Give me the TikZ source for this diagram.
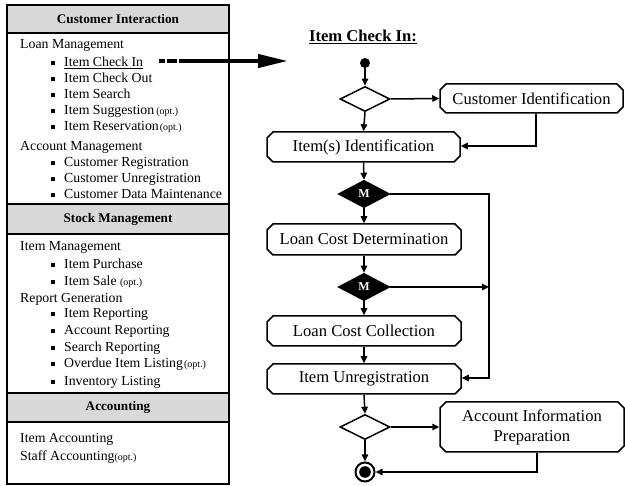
\documentclass[tikz,border=0pt]{standalone}
\usepackage{fontspec}
\setmainfont{Liberation Serif}
\usetikzlibrary{shapes.geometric,shapes.misc,arrows.meta,calc}
\definecolor{headgray}{RGB}{217,217,217}
\newcommand\optnote[1]{{\fontsize{10}{12}\selectfont #1}}

\begin{document}
\begin{tikzpicture}[x=1pt,y=-1pt,
  panel/.style={line width=1.6pt},
  header/.style={draw, line width=1.6pt, fill=headgray, minimum width=222pt,
    inner sep=0, font=\fontsize{13.2}{15}\selectfont\bfseries},
  group/.style={anchor=base west, inner sep=0, font=\fontsize{13.8}{16}\selectfont},
  entry/.style={group},
  bulletsq/.style={fill, minimum size=4pt, inner sep=0},
  activity/.style={chamfered rectangle, chamfered rectangle xsep=3pt,
    chamfered rectangle ysep=3pt, draw, line width=1.5pt, minimum height=30pt,
    inner sep=0, font=\fontsize{16.6}{20}\selectfont},
  branch/.style={diamond, draw, line width=1.5pt, minimum width=50pt,
    minimum height=25pt, inner sep=0},
  merge/.style={diamond, draw, fill=black, line width=1.5pt, minimum width=51pt,
    minimum height=27pt, inner sep=0, text=white,
    font=\fontsize{12}{14}\selectfont\bfseries},
  flow/.style={line width=1.5pt, -{Triangle[length=7pt,width=6.5pt]}},
  pointer/.style={line width=4pt, -{Triangle[length=30pt,width=13pt]},
    dash pattern=on 6pt off 2pt on 10pt off 2pt on 400pt off 0pt}
]
\useasboundingbox (0,0) rectangle (625,486);

% ---------- function overview panel ----------
\draw[panel] (7,5) rectangle (229,484);
\node[header, minimum height=28pt] (hci) at (118,19) {Customer Interaction};
\node[header, minimum height=30pt] (hsm) at (118,219) {Stock Management};
\node[header, minimum height=29pt] (hac) at (118,407.5) {Accounting};

\newcommand\listitem[3]{%
  \node[entry] (#1) at (64,#2) {#3};
  \node[bulletsq] (#1-b) at ($(#1.base west)+(-11.5,-4)$) {};}

\node[group] (loan) at (20,49) {Loan Management};
\listitem{ici}{67}{\underline{Item Check In}}
\listitem{ico}{83}{Item Check Out}
\listitem{isr}{99}{Item Search}
\listitem{isg}{115}{Item Suggestion\hspace{2pt}\optnote{(opt.)}}
\listitem{irs}{131}{Item Reservation\hspace{1pt}\optnote{(opt.)}}
\node[group] (acct) at (20,151) {Account Management};
\listitem{crg}{167}{Customer Registration}
\listitem{cur}{183}{Customer Unregistration}
\listitem{cdm}{199}{Customer Data Maintenance}

\node[group] (itm) at (20,251) {Item Management};
\listitem{ipu}{269}{Item Purchase}
\listitem{isa}{286}{Item Sale \optnote{(opt.)}}
\node[group] (rep) at (20,303) {Report Generation};
\listitem{irp}{318}{Item Reporting}
\listitem{arp}{335}{Account Reporting}
\listitem{srp}{352}{Search Reporting}
\listitem{oil}{368}{Overdue Item Listing\hspace{1pt}\optnote{(opt.)}}
\listitem{inl}{386}{Inventory Listing}

\node[group] (iac) at (20,443) {Item Accounting};
\node[group] (sac) at (20,461) {Staff Accounting\optnote{(opt.)}};

% ---------- pointer to the detailed flow ----------
\coordinate (ptip) at (288,61);
\draw[pointer] ($(ici.base east)+(16,-6)$) -- (ptip);

% ---------- activity flow: Item Check In ----------
\node[font=\fontsize{16.6}{20}\selectfont\bfseries] (title) at (363,37)
  {\underline{Item Check In:}};

\node[circle, fill, minimum size=10pt, inner sep=0] (start) at (365,63) {};
\node[branch] (d1) at (365,99) {};
\node[activity, minimum width=183pt, minimum height=29pt] (cid) at (531.5,98.5)
  {Customer Identification};
\node[activity, minimum width=193pt] (iid) at (363.5,147) {Item(s) Identification};
\node[merge] (m1) at (364,194) {M};
\node[activity, minimum width=194pt, minimum height=31pt] (lcd) at (364,239.5)
  {Loan Cost Determination};
\node[merge] (m2) at (364,287) {M};
\node[activity, minimum width=194pt] (lcc) at (364,331) {Loan Cost Collection};
\node[activity, minimum width=194pt] (iur) at (364,379) {Item Unregistration};
\node[branch] (d3) at (365,427) {};
\node[activity, minimum width=184pt, minimum height=50pt, align=center] (aip)
  at (532,427) {Account Information\\Preparation};
\node[circle, draw, line width=2pt, minimum size=19pt, inner sep=0,
  path picture={\fill (path picture bounding box.center) circle (5.8pt);}]
  (end) at (365,472) {};

\coordinate (rail) at (489,194);

\draw[flow] (start) -- (d1);
\draw[flow] (d1.east) -- (cid.west);
\draw[flow] (d1.south) -- (iid.north);
\draw[flow] ([xshift=4.5pt]cid.south) |- ([yshift=1pt]iid.east);
\draw[flow] (iid.south) -- (m1.north);
\draw[flow] (m1.east) -- (rail) |- ([yshift=1pt]iur.east);
\draw[flow] (m1.south) -- (lcd.north);
\draw[flow] (lcd.south) -- (m2.north);
\draw[flow] (m2.east) -- (rail |- m2.east);
\draw[flow] (m2.south) -- (lcc.north);
\draw[flow] (lcc.south) -- (iur.north);
\draw[flow] (iur.south) -- (d3.north);
\draw[flow] (d3.east) -- (aip.west);
\draw[flow] (d3.south) -- (end.north);
\draw[flow] ([xshift=5pt]aip.south) |- (end.east);
\end{tikzpicture}
\end{document}
